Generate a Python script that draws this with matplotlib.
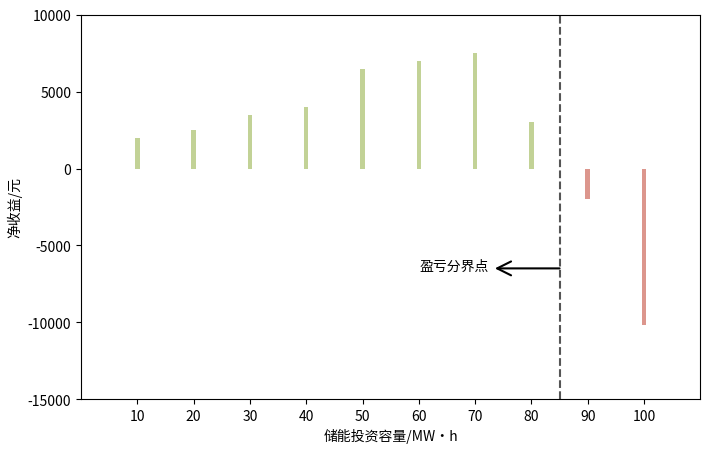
import matplotlib
matplotlib.use('Agg')
import matplotlib.pyplot as plt

plt.rcParams['font.family'] = ['Noto Sans CJK SC', 'DejaVu Sans']
plt.rcParams['axes.unicode_minus'] = False

capacity = [10, 20, 30, 40, 50, 60, 70, 80, 90, 100]
net_income = [2000, 2500, 3500, 4000, 6500, 7000, 7500, 3000, -2000, -10200]
breakeven = 85

colors = ['#c2d296' if v > 0 else '#dc968d' for v in net_income]

fig, ax = plt.subplots(figsize=(7.11, 4.52), dpi=100)
ax.bar(capacity, net_income, width=0.8, color=colors)
ax.axvline(breakeven, color='#555555', linestyle='--', linewidth=1.5)

# arrow pointing left from the break-even line, label beside its head
ax.annotate('', xy=(73.5, -6500), xytext=(breakeven, -6500),
            arrowprops=dict(arrowstyle='->', color='black', lw=1.5,
                            mutation_scale=25, shrinkA=0, shrinkB=0))
ax.text(72.5, -6350, '盈亏分界点', ha='right', va='center', fontsize=10)

ax.set_xlim(0, 110)
ax.set_ylim(-15000, 10000)
ax.set_xticks(capacity)
ax.set_yticks([-15000, -10000, -5000, 0, 5000, 10000])
ax.set_xlabel('储能投资容量/MW•h')
ax.set_ylabel('净收益/元')

plt.subplots_adjust(left=0.114, right=0.985, top=0.965, bottom=0.115)
plt.savefig('out.png', dpi=100)
